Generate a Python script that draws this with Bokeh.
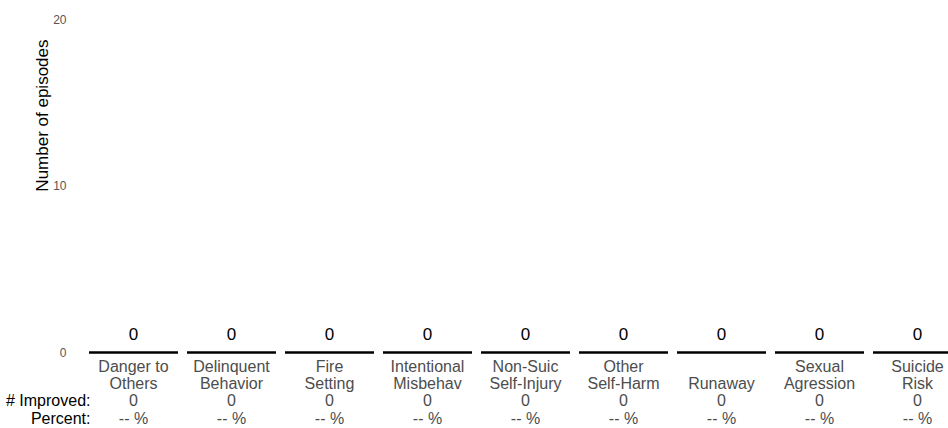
import numpy as np
from bokeh.plotting import figure
from bokeh.models import ColumnDataSource, Range1d, FixedTicker, Label
from bokeh.core.properties import value
from bokeh.embed import file_html
from bokeh.resources import INLINE

# ---- data ----
categories = ["Danger to\nOthers", "Delinquent\nBehavior", "Fire\nSetting",
              "Intentional\nMisbehav", "Non-Suic\nSelf-Injury", "Other\nSelf-Harm",
              "Runaway", "Sexual\nAgression", "Suicide\nRisk"]
episodes = [0, 0, 0, 0, 0, 0, 0, 0, 0]
improved = [0, 0, 0, 0, 0, 0, 0, 0, 0]
y_ticks = [0, 10, 20]
y_label = "Number of episodes"
row_labels = ["# Improved:", "Percent:"]

FONT = "Liberation Sans"

xs = list(range(len(categories)))
line1, line2 = [], []
for c in categories:
    parts = c.split("\n")
    if len(parts) == 1:
        line1.append("")
        line2.append(parts[0])
    else:
        line1.append(parts[0])
        line2.append(parts[1])

pct = [("%d %%" % round(100.0 * i / e)) if e > 0 else "-- %" for i, e in zip(improved, episodes)]
half = 0.454
src = ColumnDataSource(dict(
    x=xs, episodes=episodes, ep_label=[str(v) for v in episodes],
    x0=[x - half for x in xs], x1=[x + half for x in xs],
    line1=line1, line2=line2, improved=[str(v) for v in improved], pct=pct,
))

p = figure(width=948, height=428,
           x_range=Range1d(-1.3571, 8.3163), y_range=Range1d(-4.565, 20.42),
           output_backend="svg", toolbar_location=None,
           min_border_left=0, min_border_right=0, min_border_top=12, min_border_bottom=0,
           x_axis_location=None)
p.outline_line_color = None
p.xgrid.visible = False
p.ygrid.visible = False
p.background_fill_color = "white"
p.border_fill_color = "white"

ax = p.yaxis[0]
ax.fixed_location = -0.6224
ax.ticker = FixedTicker(ticks=y_ticks)
ax.axis_line_color = None
ax.major_tick_line_color = None
ax.minor_tick_line_color = None
ax.major_tick_out = 0
ax.major_tick_in = 0
ax.major_label_standoff = 6
ax.major_label_text_font = FONT
ax.major_label_text_font_size = "12px"
ax.major_label_text_color = "#555555"

# bars (zero height) and baselines
p.vbar(x="x", top="episodes", width=2 * half, source=src, fill_color="#4f81bd", line_color=None)
p.segment(x0="x0", x1="x1", y0=0, y1=0, source=src, line_color="black", line_width=2.5)

# value labels
p.text(x="x", y="episodes", text="ep_label", source=src, y_offset=-18,
       text_align="center", text_baseline="alphabetic",
       text_font=value(FONT), text_font_size="17px", text_color="black")

# category labels and table rows
common = dict(source=src, text_align="center", text_baseline="alphabetic",
              text_font=value(FONT), text_font_size="16px", text_color="#4d4d4d")
p.text(x="x", y=0, text="line1", y_offset=14, **common)
p.text(x="x", y=0, text="line2", y_offset=31, **common)
p.text(x="x", y=0, text="improved", y_offset=48, **common)
p.text(x="x", y=0, text="pct", y_offset=66, **common)

p.text(x=[-0.439, -0.439], y=[0, 0], text=row_labels, y_offset=[48, 66],
       text_align="right", text_baseline="alphabetic",
       text_font=value(FONT), text_font_size="16px", text_color="black")

p.add_layout(Label(x=-0.9286, y=14.23, text=y_label, angle=np.pi / 2,
                   text_align="center", text_baseline="middle",
                   text_font=FONT, text_font_size="17px", text_color="black"))

open("out.html", "w").write(file_html(p, INLINE))
